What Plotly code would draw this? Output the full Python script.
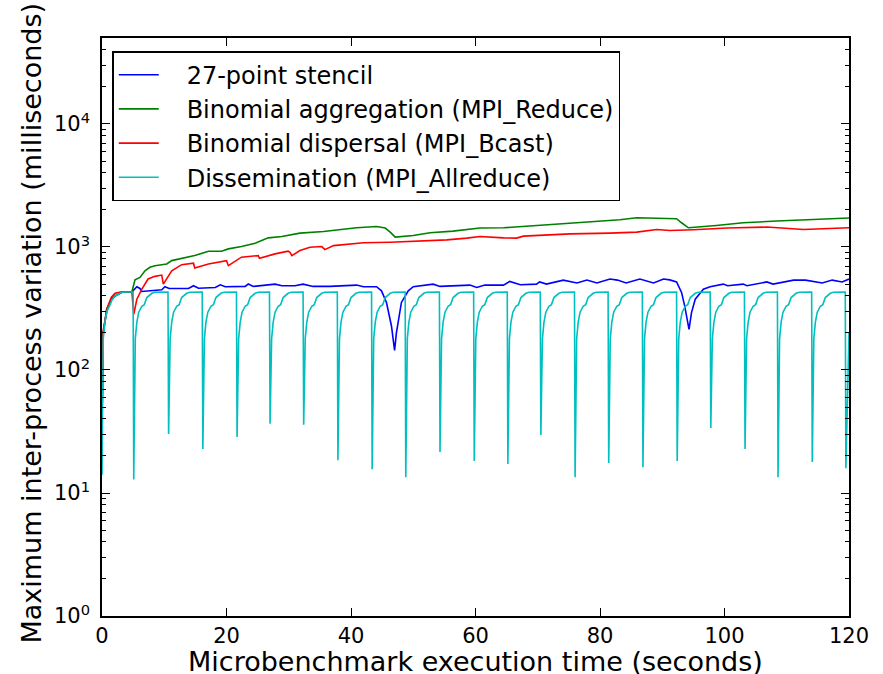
import plotly.graph_objects as go

# ---------------- data ----------------
series_names = ["27-point stencil", "Binomial aggregation (MPI_Reduce)",
                "Binomial dispersal (MPI_Bcast)", "Dissemination (MPI_Allreduce)"]
series_colors = ["#0000ff", "#008000", "#ff0000", "#00bfbf"]

stencil_points = [(0, 40), (0.2, 200), (0.75, 310), (1.5, 376), (2.1, 400), (3.2, 428), (4.8, 430),
    (5.6, 475), (6.1, 460), (6.4, 435), (9.6, 449), (10.1, 475), (10.8, 460), (13.9, 460),
    (14.7, 484), (15.5, 462), (18.2, 469), (19.0, 493), (19.8, 475), (23.0, 478), (23.5, 500),
    (24.3, 478), (27.8, 499), (28.9, 484), (31.0, 484), (32.3, 499), (33.9, 478), (36.6, 478),
    (40.9, 490), (42.0, 475), (44.1, 475), (44.9, 440), (45.7, 354), (46.5, 228), (47.0, 144),
    (47.3, 201), (48.1, 354), (49.2, 440), (50.0, 475), (53.2, 499), (54.3, 478), (59.1, 490),
    (60.2, 469), (61.5, 490), (64.5, 490), (65.5, 525), (67.2, 493), (69.8, 499), (70.3, 520),
    (71.4, 499), (74.1, 538), (76.3, 510), (77.9, 538), (79.5, 510), (81.6, 549), (82.8, 538),
    (84.2, 510), (86.4, 549), (88.6, 510), (90.2, 549), (91.2, 540), (92.3, 520), (93.1, 427),
    (93.6, 332), (94.3, 214), (94.7, 293), (95.3, 376), (96.6, 454), (97.7, 475), (99.8, 499),
    (100.5, 484), (103.0, 499), (103.6, 484), (106.8, 520), (107.8, 499), (111.1, 538),
    (113.0, 538), (115.7, 510), (117.3, 538), (118.9, 520), (120.0, 549)]

reduce_points = [(0, 40), (0.2, 200), (0.75, 310), (1.5, 376), (2.1, 400), (3.2, 428), (4.8, 430),
    (5.3, 541), (6.1, 566), (6.9, 641), (7.7, 684), (8.5, 705), (9.6, 718), (10.4, 727),
    (11.2, 775), (12.8, 810), (14.9, 851), (17.1, 924), (19.2, 924), (20.3, 965), (22.4, 1008),
    (24.6, 1074), (26.7, 1187), (28.9, 1216), (31.8, 1297), (35.6, 1337), (38.2, 1388),
    (40.9, 1432), (44.1, 1468), (45.5, 1425), (46.3, 1321), (47.1, 1203), (50.0, 1241),
    (52.7, 1304), (56.4, 1346), (60.7, 1425), (64.5, 1432), (69.8, 1496), (75.2, 1566),
    (80.5, 1614), (83.2, 1667), (85.9, 1730), (89.6, 1719), (92.3, 1698), (93.1, 1574),
    (94.2, 1432), (98.7, 1496), (103.0, 1574), (108.4, 1625), (113.7, 1667), (120.0, 1719)]

bcast_points = [(0, 40), (0.2, 210), (0.9, 325), (1.5, 390), (2.1, 420), (3.2, 432), (4.8, 432),
    (5.1, 284), (5.6, 376), (6.4, 454), (7.4, 549), (8.5, 577), (9.6, 591), (9.85, 499),
    (11.2, 641), (12.8, 718), (14.7, 738), (14.9, 675), (17.1, 727), (20.0, 775), (20.3, 705),
    (22.4, 826), (25.1, 851), (25.3, 810), (27.8, 879), (29.9, 924), (30.2, 906), (30.5, 851),
    (31.8, 935), (33.4, 996), (35.3, 1008), (35.8, 952), (37.2, 1026), (42.0, 1081),
    (46.3, 1094), (50.0, 1114), (55.4, 1142), (58.6, 1180), (60.7, 1216), (64.5, 1187),
    (66.6, 1180), (67.7, 1225), (75.2, 1279), (81.6, 1297), (85.9, 1321), (89.1, 1388),
    (91.2, 1361), (95.0, 1380), (100.4, 1425), (106.8, 1452), (112.7, 1388), (120.0, 1432)]

# Dissemination: start-up ramp, then sawtooth cycles (drop times, minima, recovery shape)
allreduce_start = [(0, 14), (0.2, 180), (0.5, 250), (0.8, 300), (1.2, 330), (1.6, 370),
                   (2.1, 400), (2.6, 415), (3.2, 428), (4.0, 430), (5.0, 430)]
allreduce_drop_times = [5.1, 10.7, 16.2, 21.7, 27.0, 32.4, 37.9, 43.4, 48.8, 54.3, 59.8,
                        65.2, 70.5, 76.0, 81.4, 86.9, 92.4, 97.8, 103.3, 108.6, 114.1, 119.5]
allreduce_minima = [12.9, 30.2, 22.8, 28.5, 36.5, 35.8, 18.5, 15.6, 13.4, 21.5, 18.2,
                    17.2, 29.6, 13.4, 17.5, 16.2, 18.2, 33.8, 22.8, 13.4, 17.9, 15.9]
recovery_offsets = [0.25, 0.5, 0.8, 1.3, 1.7, 2.1, 2.5, 2.9, 3.4]
recovery_values = [180, 245, 295, 330, 340, 388, 405, 420, 428]
allreduce_plateau = 430
allreduce_end = (120.0, 200)

x_ticks = [0, 20, 40, 60, 80, 100, 120]
y_ticks = [1, 10, 100, 1000, 10000]
y_tick_text = ["10<sup>0</sup>", "10<sup>1</sup>", "10<sup>2</sup>", "10<sup>3</sup>", "10<sup>4</sup>"]
x_title = "Microbenchmark execution time (seconds)"
y_title = "Maximum inter-process variation (milliseconds)"

# ---------------- build the dissemination series ----------------
cx = [p[0] for p in allreduce_start]
cy = [p[1] for p in allreduce_start]
for i, (td, vmin) in enumerate(zip(allreduce_drop_times, allreduce_minima)):
    cx.append(td)
    cy.append(vmin)
    nxt = allreduce_drop_times[i + 1] if i + 1 < len(allreduce_drop_times) else None
    if nxt is None:
        cx.append(allreduce_end[0]); cy.append(allreduce_end[1])
        break
    for off, val in zip(recovery_offsets, recovery_values):
        cx.append(td + off); cy.append(val)
    cx.append(nxt - 0.1); cy.append(allreduce_plateau)

all_series = [stencil_points, reduce_points, bcast_points, None]

fig = go.Figure()
for name, color, pts in zip(series_names, series_colors, all_series):
    if pts is None:
        xs, ys = cx, cy
    else:
        xs = [p[0] for p in pts]
        ys = [p[1] for p in pts]
    # no-break spaces widen the gap between the legend sample and its label
    fig.add_trace(go.Scatter(x=xs, y=ys, mode="lines", name="\u00a0\u00a0\u00a0" + name,
                             line=dict(color=color, width=1.6)))

minor_vals = [m * 10 ** d for d in range(0, 5) for m in range(2, 10)]

font_family = "DejaVu Sans"
fig.update_layout(
    width=883, height=674,
    margin=dict(l=102, r=34, t=38, b=58),
    paper_bgcolor="white", plot_bgcolor="white",
    font=dict(family=font_family, color="black", size=21),
    hovermode=False,
    showlegend=True,
    legend=dict(x=0.014, y=0.977, xanchor="left", yanchor="top",
                bordercolor="black", borderwidth=1.3, bgcolor="white",
                font=dict(size=24, family=font_family), itemwidth=40,
                tracegroupgap=0),
    xaxis=dict(range=[0, 120], tickvals=x_ticks, ticks="inside", ticklen=8,
               tickwidth=1, tickcolor="black", showgrid=False, zeroline=False,
               showline=True, linecolor="black", linewidth=1.5, mirror="allticks",
               automargin=False, tickfont=dict(size=21)),
    yaxis=dict(type="log", range=[0, 4.699], tickvals=y_ticks, ticktext=y_tick_text,
               ticks="inside", ticklen=8, tickwidth=1, tickcolor="black",
               showgrid=False, zeroline=False, showline=True, linecolor="black",
               linewidth=1.5, mirror="allticks", automargin=False,
               ticklabelstandoff=6,
               minor=dict(tickvals=minor_vals, ticks="inside", ticklen=4,
                          tickcolor="black", showgrid=False),
               tickfont=dict(size=21)),
    annotations=[
        dict(text=x_title, xref="paper", yref="paper", x=0.5, y=-0.078,
             xanchor="center", yanchor="middle", showarrow=False,
             font=dict(size=27, family=font_family, color="black")),
        dict(text=y_title, xref="paper", yref="paper", x=-0.095, y=0.506,
             xanchor="center", yanchor="middle", showarrow=False, textangle=-90,
             font=dict(size=27, family=font_family, color="black")),
    ],
)

fig.write_html("out.html", config={"displayModeBar": False},
               post_script="document.body.style.margin='0';")
